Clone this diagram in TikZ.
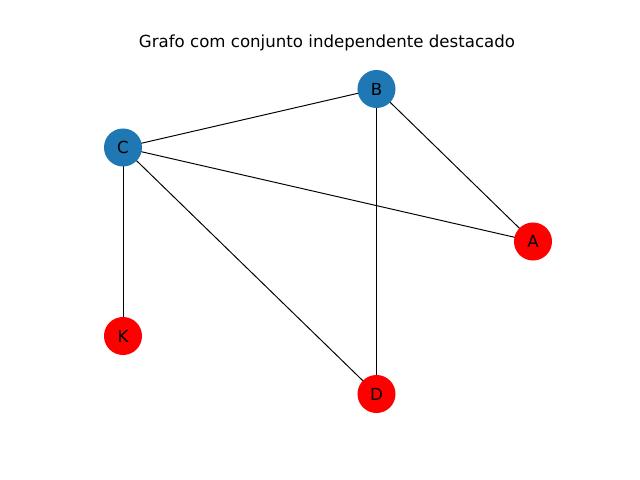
\documentclass[tikz,border=0pt]{standalone}
\usepackage{fontspec}
\setmainfont{DejaVu Sans}
\usetikzlibrary{backgrounds}
\definecolor{mplblue}{HTML}{1F77B4}
\definecolor{mplred}{HTML}{FF0000}
\begin{document}
\begin{tikzpicture}[x=0.01in,y=-0.01in,
  vtx/.style={circle,minimum size=0.38in,inner sep=0pt,font=\fontsize{12}{14}\selectfont},
  inset/.style={vtx,fill=mplred},
  other/.style={vtx,fill=mplblue},
  edge/.style={draw=black,line width=0.7pt}]
\node[font=\fontsize{12}{14}\selectfont] (title) at (327,43) {Grafo com conjunto independente destacado};
\node[other] (B) at (376.5,89) {B};
\node[other] (C) at (123,147.5) {C};
\node[inset] (A) at (533,241.5) {A};
\node[inset] (K) at (123,336) {K};
\node[inset] (D) at (376.5,394) {D};
\begin{scope}[on background layer]
\fill[white] (0,0) rectangle (640,480);
\draw[edge] (C.center) -- (B.center);
\draw[edge] (B.center) -- (A.center);
\draw[edge] (B.center) -- (D.center);
\draw[edge] (C.center) -- (A.center);
\draw[edge] (C.center) -- (K.center);
\draw[edge] (C.center) -- (D.center);
\end{scope}
\useasboundingbox (0,0) rectangle (640,480);
\end{tikzpicture}
\end{document}
